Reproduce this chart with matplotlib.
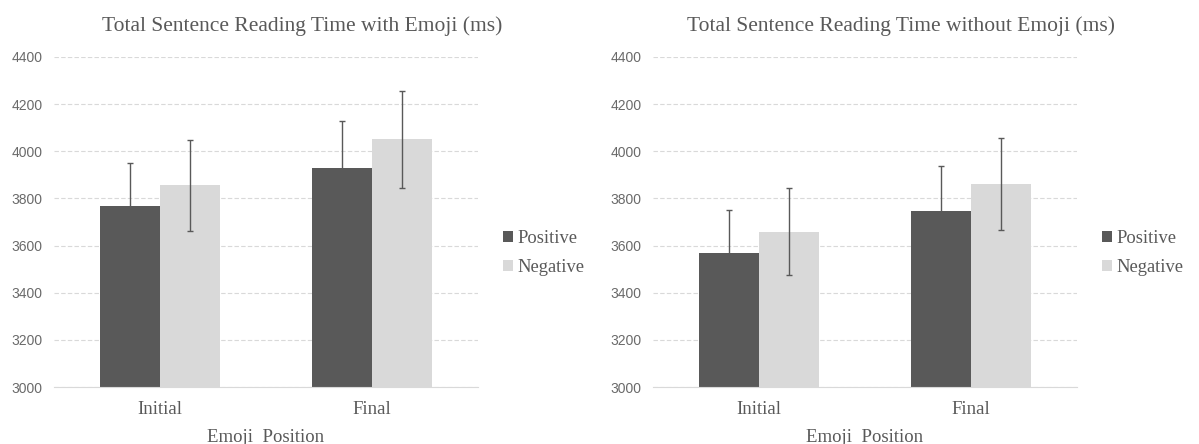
import numpy as np
import matplotlib.pyplot as plt

# values
positions = ['Initial', 'Final']
series = ['Positive', 'Negative']
with_pos = [3767, 3928]
with_neg = [3855, 4051]
with_pos_err = [183, 200]
with_neg_err = [194, 205]
without_pos = [3570, 3747]
without_neg = [3659, 3860]
without_pos_err = [181, 191]
without_neg_err = [185, 195]
yticks = [3000, 3200, 3400, 3600, 3800, 4000, 4200, 4400]

dark = '#595959'
light = '#d9d9d9'
txt = '#595959'

plt.rcParams['font.family'] = ['Liberation Serif', 'DejaVu Serif']

fig = plt.figure(figsize=(11.99, 4.44), dpi=100)
ax1 = fig.add_axes([0.0450, 0.128, 0.3536, 0.744])
ax2 = fig.add_axes([0.5446, 0.128, 0.3536, 0.744])


def draw(ax, pos, neg, pos_err, neg_err, title):
    x = np.arange(len(positions))
    w = 0.283
    ekw = dict(ecolor=dark, elinewidth=1, capsize=2.5, capthick=1)
    ax.bar(x - w / 2, pos, w, color=dark, label=series[0], zorder=2,
           yerr=pos_err, error_kw=ekw)
    ax.bar(x + w / 2, neg, w, color=light, label=series[1], zorder=2,
           yerr=neg_err, error_kw=ekw)
    ax.set_xlim(-0.5, 1.5)
    ax.set_ylim(3000, 4400)
    ax.set_yticks(yticks)
    ax.set_yticklabels([str(t) for t in yticks], fontsize=10, color='#6a6a6a',
                       family=['Liberation Sans', 'DejaVu Sans'])
    ax.set_xticks(x)
    ax.set_xticklabels(positions, fontsize=13.5, color=txt)
    ax.tick_params(axis='x', length=0, pad=10)
    ax.tick_params(axis='y', length=0, pad=8)
    ax.grid(axis='y', color='#d9d9d9', linestyle=(0, (4, 2)), linewidth=0.8, zorder=0)
    for s in ['left', 'right', 'top']:
        ax.spines[s].set_visible(False)
    ax.spines['bottom'].set_color('#d9d9d9')
    ax.spines['bottom'].set_zorder(3)
    ax.set_xlabel('Emoji  Position', fontsize=13.5, color=txt, labelpad=8)
    bb = ax.get_position()
    fig.text(bb.x0 + 0.585 * bb.width, 1 - 26 / 444, title, fontsize=15.5,
             color=txt, ha='center', va='center')
    leg = ax.legend(loc='center left', bbox_to_anchor=(1.058, 0.405), frameon=False,
                    fontsize=13.3, handlelength=0.55, handleheight=0.55,
                    handletextpad=0.25, labelspacing=0.65, borderpad=0,
                    borderaxespad=0)
    for t in leg.get_texts():
        t.set_color(txt)


draw(ax1, with_pos, with_neg, with_pos_err, with_neg_err,
     'Total Sentence Reading Time with Emoji (ms)')
draw(ax2, without_pos, without_neg, without_pos_err, without_neg_err,
     'Total Sentence Reading Time without Emoji (ms)')

fig.savefig('out.png', dpi=100)
